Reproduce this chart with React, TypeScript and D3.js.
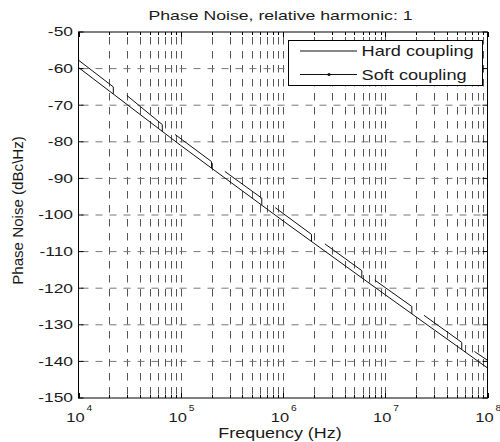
import React from 'react';
import * as d3 from 'd3';

// ---------- data ----------
const title = 'Phase Noise, relative harmonic: 1';
const xLabel = 'Frequency (Hz)';
const yLabel = 'Phase Noise (dBc\\Hz)';
const seriesNames = ['Hard coupling', 'Soft coupling'];

const xExponents = [4, 5, 6, 7, 8];
const yTickValues = [-50, -60, -70, -80, -90, -100, -110, -120, -130, -140, -150];

// continuous (lower) line
const hardFreq = [1e4, 1e5, 1e6, 1e7, 1e8];
const hardDb = [-59.7, -81.0, -101.6, -121.8, -141.8];

// broken (upper) line: segments, each ending with a drop onto the lower line
const softStartFreq = [1e4, 2.96e4, 8.8e4, 2.7e5, 8.4e5, 2.57e6, 7.9e6, 2.39e7, 7.46e7];
const softEndFreq = [2.19e4, 6.6e4, 2.0e5, 6.2e5, 1.9e6, 5.9e6, 1.82e7, 5.6e7, 1e8];
const softStartDb = [-57.7, -67.3, -78.0, -88.1, -98.0, -107.9, -117.8, -127.4, -137.3];
const softEndDb = [-65.0, -75.3, -85.4, -95.4, -105.3, -115.2, -125.0, -134.8, -139.7];
const softDropDb = [-66.9, -77.2, -87.2, -97.3, -107.3, -117.2, -127.0, -136.8, null];

// ---------- layout ----------
const W = 500, H = 442;
const L = 78.5, R = 487.5, T = 32, B = 398;
const FONT = '"Liberation Sans", Arial, Helvetica, sans-serif';

const x = d3.scaleLog().domain([1e4, 1e8]).range([L, R]);
const y = d3.scaleLinear().domain([-150, -50]).range([B, T]);

type P = { f: number; db: number } | null;

function SText(props: {
  x: number; y: number; sx?: number; size: number; anchor?: string; rotate?: number; children: React.ReactNode; fill?: string;
}) {
  const { sx = 1, size, anchor = 'start', rotate = 0, children, fill = '#1a1a1a' } = props;
  return (
    <text
      transform={`translate(${props.x},${props.y}) rotate(${rotate}) scale(${sx},1)`}
      textAnchor={anchor}
      fontSize={size}
      fontFamily={FONT}
      fill={fill}
    >
      {children}
    </text>
  );
}

export default function App() {
  const gridX = x.ticks().filter((v) => v > 1e4 * 1.0001 && v < 1e8 * 0.9999);
  const allXTicks = x.ticks();
  const majorSet = new Set(xExponents.map((e) => Math.pow(10, e)));

  const hardPts = hardFreq.map((f, i) => ({ f, db: hardDb[i] }));
  const softPts: P[] = [];
  softStartFreq.forEach((f, i) => {
    softPts.push({ f, db: softStartDb[i] });
    softPts.push({ f: softEndFreq[i], db: softEndDb[i] });
    const d = softDropDb[i];
    if (d !== null) softPts.push({ f: softEndFreq[i], db: d });
    softPts.push(null);
  });

  const line = d3
    .line<P>()
    .defined((d) => d !== null)
    .x((d) => x((d as any).f))
    .y((d) => y((d as any).db));

  return (
    <svg width={W} height={H} style={{ position: 'absolute', left: 0, top: 0, background: '#fff' }}>
      <rect x={0} y={0} width={W} height={H} fill="#fff" />
      {/* vertical grid */}
      {gridX.map((v, i) => (
        <line
          key={'gx' + i}
          x1={Math.round(x(v)) + 0.5}
          x2={Math.round(x(v)) + 0.5}
          y1={T}
          y2={B}
          stroke="#555"
          strokeWidth={1}
          strokeDasharray="7.5,6.5"
          strokeDashoffset={9}
        />
      ))}
      {/* horizontal grid */}
      {yTickValues
        .filter((v) => v > -150 && v < -50)
        .map((v, i) => (
          <line
            key={'gy' + i}
            x1={L}
            x2={R}
            y1={y(v)}
            y2={y(v)}
            stroke="#777"
            strokeWidth={1}
            strokeDasharray="7,7"
            strokeDashoffset={11}
          />
        ))}
      {/* ticks */}
      {allXTicks.map((v, i) => {
        const len = majorSet.has(v) ? 5 : 3;
        const px = Math.round(x(v)) + 0.5;
        return (
          <g key={'tx' + i}>
            <line x1={px} x2={px} y1={B} y2={B - len} stroke="#000" />
            <line x1={px} x2={px} y1={T} y2={T + len} stroke="#000" />
          </g>
        );
      })}
      {yTickValues.map((v, i) => (
        <g key={'ty' + i}>
          <line x1={L} x2={L + 5} y1={y(v)} y2={y(v)} stroke="#000" />
          <line x1={R} x2={R - 5} y1={y(v)} y2={y(v)} stroke="#000" />
        </g>
      ))}
      {/* data */}
      <path d={line(hardPts) || ''} fill="none" stroke="#111" strokeWidth={1} />
      <path d={line(softPts) || ''} fill="none" stroke="#111" strokeWidth={1} />
      {/* frame */}
      <rect x={L} y={T} width={R - L} height={B - T} fill="none" stroke="#000" strokeWidth={1} />
      {/* y tick labels */}
      {yTickValues.map((v, i) => (
        <SText key={'yl' + i} x={73} y={y(v) + 4.3} size={12} sx={1.45} anchor="end">
          {String(v)}
        </SText>
      ))}
      {/* x tick labels */}
      {xExponents.map((e, i) => {
        const px = x(Math.pow(10, e));
        return (
          <g key={'xl' + i}>
            <SText x={px - 12.2} y={421.7} size={13.5} sx={1.22}>
              10
            </SText>
            <SText x={px + 8} y={410.5} size={8.5} sx={1.2}>
              {String(e)}
            </SText>
          </g>
        );
      })}
      {/* title & labels */}
      <SText x={280.5} y={19.5} size={13} sx={1.36} anchor="middle">
        {title}
      </SText>
      <SText x={280} y={437.5} size={14} sx={1.28} anchor="middle">
        {xLabel}
      </SText>
      <SText x={22.7} y={210.5} size={14} sx={1.08} anchor="middle" rotate={-90}>
        {yLabel}
      </SText>
      {/* legend */}
      <rect x={288.5} y={40.5} width={194} height={45} fill="#fff" stroke="#000" strokeWidth={1} />
      <line x1={300} x2={357} y1={51} y2={51} stroke="#111" />
      <line x1={300} x2={357} y1={74.5} y2={74.5} stroke="#111" />
      <circle cx={329} cy={74.5} r={1.6} fill="#111" />
      <SText x={361.5} y={56} size={14} sx={1.3}>
        {seriesNames[0]}
      </SText>
      <SText x={361.5} y={79.5} size={14} sx={1.3}>
        {seriesNames[1]}
      </SText>
    </svg>
  );
}
